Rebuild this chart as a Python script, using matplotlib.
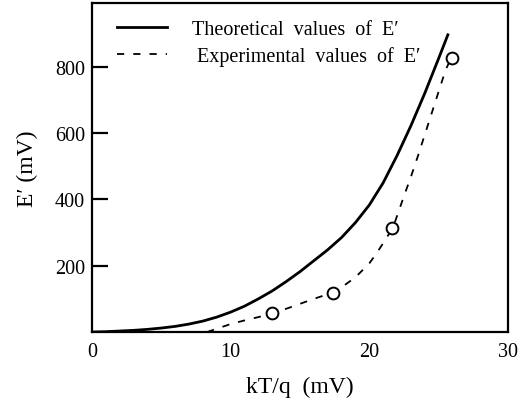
import matplotlib
matplotlib.use("Agg")
import matplotlib.pyplot as plt
from matplotlib.lines import Line2D

# Theoretical E' curve
theo_x = [0, 1, 2, 3, 4, 5, 6, 7, 8, 9, 10, 11, 12, 13, 14, 15, 16, 17, 18,
          19, 20, 21, 22, 23, 24, 25, 25.7]
theo_y = [0, 1, 3, 5, 8, 12, 17, 24, 33, 45, 60, 78, 100, 124, 152, 182, 215,
          248, 285, 330, 383, 450, 532, 622, 720, 825, 900]

# Experimental E' dashed curve
exp_x = [8.3, 9, 10, 11, 12, 13, 14, 15, 16, 17, 17.5, 18, 19, 20, 20.5, 21,
         21.7, 22, 22.5, 23, 23.5, 24, 24.5, 25, 25.5, 25.9]
exp_y = [0, 10, 24, 35, 45, 56, 70, 85, 100, 114, 123, 135, 165, 207, 236, 268,
         314, 350, 410, 468, 530, 595, 660, 725, 790, 826]

# Experimental points (circles)
pts_x = [13.0, 17.35, 21.65, 25.95]
pts_y = [56, 119, 313, 826]

xticks = [0, 10, 20, 30]
yticks = [200, 400, 600, 800]

plt.rcParams['font.family'] = ['Liberation Serif', 'DejaVu Serif']

fig = plt.figure(figsize=(5.21, 4.02), dpi=100)
ax = fig.add_axes([0.1766, 0.1716, 0.975 - 0.1766, 0.990 - 0.1716])

ax.plot(theo_x, theo_y, color='black', lw=2.0, solid_capstyle='butt')
ax.plot(exp_x, exp_y, color='black', lw=1.3, linestyle=(0, (4, 5)))
ax.plot(pts_x, pts_y, linestyle='none', marker='o', markersize=8.5,
        markerfacecolor='white', markeredgecolor='black', markeredgewidth=1.4)

ax.set_xlim(0, 30)
ax.set_ylim(0, 992)

ax.set_xticks(xticks)
ax.set_yticks(yticks)
ax.tick_params(axis='y', direction='in', length=11.5, width=1.6, labelsize=14.5, pad=5)
ax.tick_params(axis='x', direction='in', length=14, width=1.6, labelsize=14.5, pad=7)
for t in ax.xaxis.get_major_ticks():
    if t.get_loc() in (0, 30):
        t.tick1line.set_visible(False)

for s in ax.spines.values():
    s.set_linewidth(1.6)

ax.set_xlabel("kT/q  (mV)", fontsize=17, labelpad=11)
ax.set_ylabel("E′ (mV)", fontsize=17, labelpad=12)

handles = [Line2D([], [], color='black', lw=2.0),
           Line2D([], [], color='black', lw=1.3, linestyle=(0, (4, 5)))]
labels = ["Theoretical  values  of  E′", " Experimental  values  of  E′"]
ax.legend(handles, labels, loc='upper left', bbox_to_anchor=(0.06, 0.948),
          frameon=False, fontsize=14.5, handlelength=2.5, handletextpad=1.25,
          labelspacing=0.33, borderaxespad=0, borderpad=0)

fig.savefig("out.png", dpi=100)
